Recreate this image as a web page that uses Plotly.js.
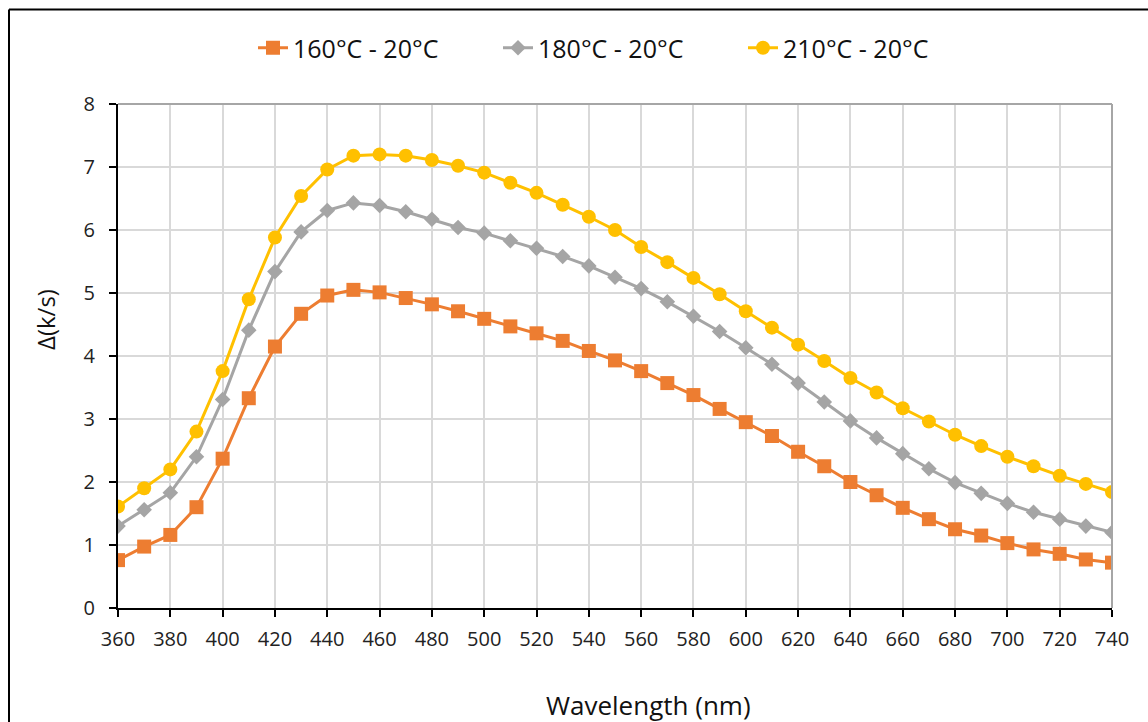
<!DOCTYPE html>
<html>
<head>
<meta charset="utf-8">
<script src="https://cdn.plot.ly/plotly-3.0.1.min.js"></script>
<style>html,body{margin:0;padding:0;background:#fff}#chart{width:1148px;height:722px}</style>
</head>
<body>
<div id="chart"></div>
<script>
const wavelength = [360,370,380,390,400,410,420,430,440,450,460,470,480,490,500,510,520,530,540,550,560,570,580,590,600,610,620,630,640,650,660,670,680,690,700,710,720,730,740];
const s160 = [0.76,0.975,1.16,1.60,2.37,3.33,4.15,4.67,4.96,5.05,5.01,4.92,4.82,4.71,4.59,4.47,4.36,4.24,4.08,3.93,3.76,3.57,3.38,3.16,2.95,2.73,2.48,2.25,2.00,1.79,1.59,1.41,1.25,1.15,1.03,0.93,0.86,0.77,0.72];
const s180 = [1.30,1.56,1.83,2.40,3.31,4.41,5.34,5.97,6.31,6.43,6.39,6.29,6.17,6.04,5.95,5.83,5.71,5.58,5.43,5.25,5.07,4.86,4.63,4.39,4.13,3.87,3.57,3.27,2.97,2.70,2.45,2.21,1.99,1.82,1.66,1.52,1.41,1.30,1.20];
const s210 = [1.61,1.90,2.20,2.80,3.76,4.90,5.88,6.54,6.96,7.18,7.20,7.18,7.11,7.02,6.91,6.75,6.59,6.40,6.21,6.00,5.73,5.49,5.24,4.98,4.71,4.45,4.18,3.92,3.65,3.42,3.17,2.96,2.75,2.57,2.40,2.25,2.10,1.97,1.84];
const seriesNames = ['160°C - 20°C','180°C - 20°C','210°C - 20°C'];
const xTicks = [360,380,400,420,440,460,480,500,520,540,560,580,600,620,640,660,680,700,720,740];
const yTicks = [0,1,2,3,4,5,6,7,8];
const xTitle = 'Wavelength (nm)';
const yTitle = 'Δ(k/s)';

const font = 'Open Sans, Noto Sans, DejaVu Sans, sans-serif';
const traces = [
  {x: wavelength, y: s160, name: seriesNames[0], type: 'scatter', mode: 'lines+markers',
   line: {color: '#ED7D31', width: 3}, marker: {symbol: 'square', size: 14, color: '#ED7D31'}},
  {x: wavelength, y: s180, name: seriesNames[1], type: 'scatter', mode: 'lines+markers',
   line: {color: '#A5A5A5', width: 3}, marker: {symbol: 'diamond', size: 12, color: '#A5A5A5'}},
  {x: wavelength, y: s210, name: seriesNames[2], type: 'scatter', mode: 'lines+markers',
   line: {color: '#FFC000', width: 3}, marker: {symbol: 'circle', size: 14, color: '#FFC000'}}
];

const axisCommon = {
  showgrid: true, gridcolor: '#D9D9D9', gridwidth: 2,
  showline: true, linecolor: '#000', linewidth: 2,
  ticks: 'outside', ticklen: 7, tickcolor: '#000', tickwidth: 2,
  tickfont: {family: font, size: 20, color: '#222'},
  zeroline: false
};

const layout = {
  width: 1148, height: 722,
  margin: {l: 118, r: 36, t: 104, b: 114},
  paper_bgcolor: '#fff', plot_bgcolor: '#fff',
  font: {family: font, size: 20, color: '#000'},
  showlegend: true,
  legend: {orientation: 'h', xref: 'container', yref: 'container', x: 253/1148, y: 1 - 48/722,
           xanchor: 'left', yanchor: 'middle', font: {family: font, size: 25, color: '#111'},
           entrywidth: 200, entrywidthmode: 'pixels', traceorder: 'normal'},
  xaxis: Object.assign({}, axisCommon, {range: [360, 740], tickvals: xTicks, ticktext: xTicks.map(String),
          ticklabelstandoff: 5}),
  yaxis: Object.assign({}, axisCommon, {range: [0, 8], tickvals: yTicks, ticklabelstandoff: 10}),
  annotations: [
    {text: xTitle, xref: 'paper', yref: 'paper', x: (648 - 118) / 994, y: (608 - 705) / 504,
     xanchor: 'center', yanchor: 'middle', showarrow: false, font: {family: font, size: 26, color: '#111'}},
    {text: yTitle, xref: 'paper', yref: 'paper', x: (45 - 118) / 994, y: (608 - 320) / 504,
     xanchor: 'center', yanchor: 'middle', textangle: -90, showarrow: false, font: {family: font, size: 24, color: '#111'}}
  ],
  shapes: [
    {type: 'line', xref: 'paper', yref: 'paper', x0: 0, x1: 1, y0: 1, y1: 1, line: {color: '#A6A6A6', width: 2}},
    {type: 'line', xref: 'paper', yref: 'paper', x0: 1, x1: 1, y0: 0, y1: 1, line: {color: '#A6A6A6', width: 2}},
    {type: 'line', xref: 'paper', yref: 'paper', x0: (9 - 118) / 994, x1: (9 - 118) / 994, y0: -0.3, y1: (608 - 9.5) / 504, line: {color: '#000', width: 2}},
    {type: 'line', xref: 'paper', yref: 'paper', x0: (9 - 118) / 994, x1: 1.05, y0: (608 - 9.5) / 504, y1: (608 - 9.5) / 504, line: {color: '#000', width: 2}}
  ]
};
Plotly.newPlot('chart', traces, layout, {displayModeBar: false, staticPlot: true});
</script>
</body>
</html>
